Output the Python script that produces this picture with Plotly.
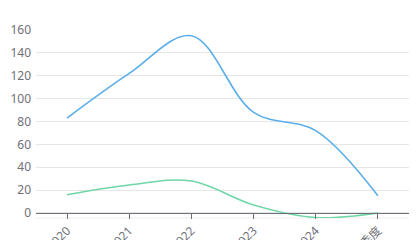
import plotly.graph_objects as go

categories = ["2020", "2021", "2022", "2023", "2024", "2025一季度"]
series_a = [83, 122, 155, 88, 72, 15]
series_b = [16, 24.5, 28, 7, -4, 0]
y_ticks = [0, 20, 40, 60, 80, 100, 120, 140, 160]

y_min, y_max = -4.4, 160

fig = go.Figure()
fig.add_trace(go.Scatter(x=list(range(len(categories))), y=series_a, mode="lines",
                         line=dict(color="#5aaeea", width=1.6, shape="spline", smoothing=1.0),
                         showlegend=False, hoverinfo="skip"))
fig.add_trace(go.Scatter(x=list(range(len(categories))), y=series_b, mode="lines",
                         line=dict(color="#6fd6a6", width=1.6, shape="spline", smoothing=1.0),
                         showlegend=False, hoverinfo="skip"))

zero_pos = (0 - y_min) / (y_max - y_min)

fig.update_layout(
    width=420, height=240,
    margin=dict(l=36, r=11, t=30, b=22, autoexpand=False),
    paper_bgcolor="white", plot_bgcolor="white",
    font=dict(family="Noto Sans, Noto Sans CJK SC, sans-serif", size=12, color="#6e7079"),
    xaxis=dict(
        range=[-0.5, len(categories) - 0.5],
        tickmode="array", tickvals=list(range(len(categories))), ticktext=categories,
        tickangle=-45, ticks="outside", ticklen=5, tickcolor="#6e7079", tickwidth=1,
        showline=True, linecolor="#6e7079", linewidth=1,
        showgrid=False, zeroline=False,
        anchor="free", position=zero_pos, automargin=False,
        tickfont=dict(size=12, color="#6e7079"),
    ),
    yaxis=dict(
        range=[y_min, y_max],
        tickmode="array", tickvals=y_ticks,
        showgrid=True, gridcolor="#e6e6e6", gridwidth=1,
        zeroline=False, showline=False, ticks="",
        ticklabelstandoff=4, automargin=False,
        tickfont=dict(size=12, color="#6e7079"),
    ),
    shapes=[dict(type="line", xref="paper", yref="paper", x0=0, x1=1, y0=0, y1=0,
                 line=dict(color="#eeeeee", width=1), layer="below")],
)

fig.write_html("out.html")
